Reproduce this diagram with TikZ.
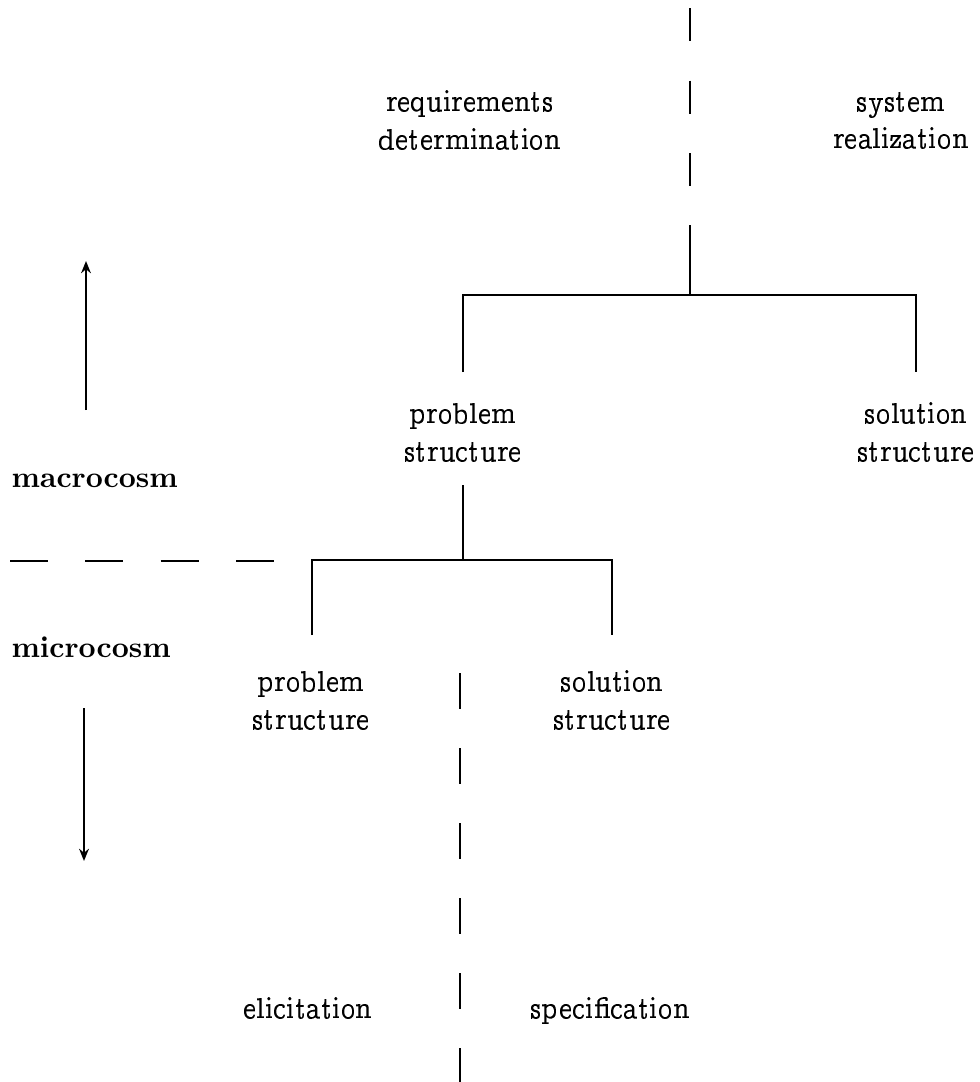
\documentclass[tikz,border=0pt]{standalone}
\usepackage[OT1]{fontenc}
\usepackage{ccfonts}
\usetikzlibrary{arrows.meta}
\begin{document}
\begin{tikzpicture}[x=0.369pt,y=-0.369pt,
  lbl/.style={align=center,inner sep=0pt,font=\fontsize{11.2}{13.8}\selectfont},
  word/.style={anchor=base,inner sep=0pt,font=\fontsize{11.2}{13.8}\selectfont},
  side/.style={anchor=base west,inner sep=0pt,font=\fontsize{10.9}{13}\selectfont\bfseries},
  tree/.style={line width=0.9pt},
  vdashA/.style={line width=0.9pt,dash pattern=on 12.2pt off 14.6pt},
  vdashB/.style={line width=0.9pt,dash pattern=on 13.3pt off 14.4pt},
  hdash/.style={line width=0.9pt,dash pattern=on 14pt off 13.8pt},
  flow/.style={line width=0.9pt,-{Stealth[length=4.5pt,width=3.6pt]}}]
  \useasboundingbox (0,0) rectangle (980,1082);

  % upper level: requirements determination / system realization
  \node[lbl] (reqdet) at (470,120) {requirements\\determination};
  \node[lbl] (sysreal) at (901,120) {system\\realization};
  \coordinate (topcut) at (690,8);
  \coordinate (topsolid) at (690,225);
  \coordinate (bar1) at (690,295);
  \coordinate (bar1l) at (463,295);
  \coordinate (bar1r) at (916,295);
  \coordinate (drop1l) at (463,372);
  \coordinate (drop1r) at (916,372);
  \draw[vdashA] (topcut) -- (topsolid);
  \draw[tree] (topsolid) -- (bar1);
  \draw[tree] (drop1l) -- (bar1l) -- (bar1r) -- (drop1r);

  \node[lbl] (probA) at (463,432) {problem\\structure};
  \node[lbl] (solA) at (916,432) {solution\\structure};

  % lower level
  \coordinate (stem2) at (463,485);
  \coordinate (bar2) at (463,560);
  \coordinate (bar2l) at (312,560);
  \coordinate (bar2r) at (612,560);
  \coordinate (drop2l) at (312,635);
  \coordinate (drop2r) at (612,635);
  \draw[tree] (stem2) -- (bar2);
  \draw[tree] (drop2l) -- (bar2l) -- (bar2r) -- (drop2r);

  \node[lbl] (probB) at (311,700) {problem\\structure};
  \node[lbl] (solB) at (612,700) {solution\\structure};
  \node[word] (elic) at (308,1018) {elicitation};
  \node[word] (spec) at (610,1018) {specification};

  \coordinate (cutB) at (460,673);
  \coordinate (cutBend) at (460,1082);
  \draw[vdashB] (cutB) -- (cutBend);

  % macrocosm / microcosm boundary
  \coordinate (hcutl) at (10,561);
  \coordinate (hcutr) at (276,561);
  \draw[hdash] (hcutl) -- (hcutr);
  \node[side] (macro) at (11,487) {macrocosm};
  \node[side] (micro) at (11,657) {microcosm};
  \coordinate (upfrom) at (86,410);
  \coordinate (upto) at (86,261);
  \coordinate (downfrom) at (84,708);
  \coordinate (downto) at (84,861);
  \draw[flow] (upfrom) -- (upto);
  \draw[flow] (downfrom) -- (downto);
\end{tikzpicture}
\end{document}
